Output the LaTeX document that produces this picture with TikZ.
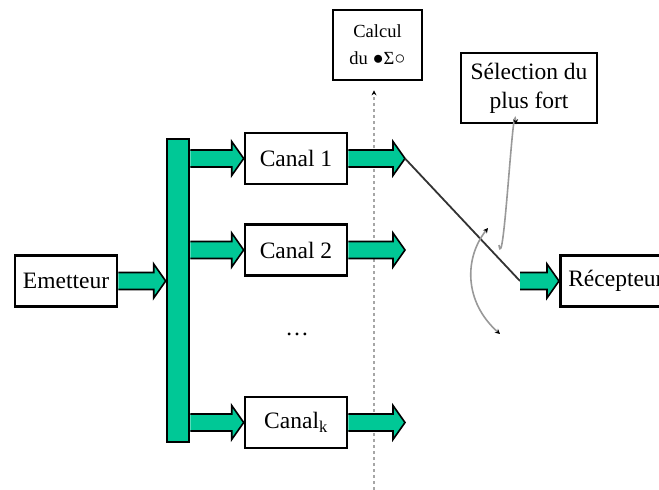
\documentclass[tikz,border=0pt]{standalone}
\usepackage{fontspec}
\setmainfont{Liberation Serif}
\usetikzlibrary{arrows.meta,calc}
\definecolor{chgreen}{RGB}{0,200,150}

\begin{document}
\begin{tikzpicture}[x=1pt, y=-1pt, font=\fontsize{23.5}{29}\selectfont,
    box/.style={draw, line width=2.6pt, minimum width=102pt, minimum height=51pt, inner sep=0pt, align=center},
    fat/.style={draw=black, line width=1.6pt, fill=chgreen, line join=miter,
        to path={let \p1=(\tikztostart), \p2=(\tikztotarget) in
            (\x1,\y1+8.5pt) -- (\x2-12pt,\y1+8.5pt) -- (\x2-12pt,\y1+17pt) -- (\x2,\y1)
            -- (\x2-12pt,\y1-17pt) -- (\x2-12pt,\y1-8.5pt) -- (\x1,\y1-8.5pt)}},
    gray curve/.style={draw=black!40, line width=1.6pt},
    tip/.style={-{Stealth[black, length=5pt, width=5pt]}}]

                \clip (0, 0) rectangle (659, 490);

                \node[box] at (66, 281) (emet) {Emetteur};
                \node[draw, line width=2.6pt, fill=chgreen, minimum width=22pt, minimum height=303pt, inner sep=0pt] at (178, 290.5) (bar) {};
                \node[box] at (296, 158.5) (c1) {Canal 1};
                \node[box] at (296, 250) (c2) {Canal 2};
                \node at (297, 334) (dots) {\dots};
                \node[box] at (296, 422.5) (ck) {Canal\textsubscript{k}};
                \node[box, minimum width=89pt, minimum height=70pt, font=\fontsize{18.5}{27}\selectfont] at (377.5, 45) (calc) {Calcul\\du ●Σ○};
                \node[box, minimum width=136pt, minimum height=70pt] at (529, 88) (sel) {Sélection du\\plus fort};
                \node[box, anchor=west, minimum width=0pt, inner xsep=8pt] at (559, 281) (rec) {Récepteur};

                \coordinate (t1) at (405, 158.5);
                \coordinate (t2) at (405, 250);
                \coordinate (tk) at (405, 422.5);
                \coordinate (sw) at (520, 281);
                \coordinate (vbot) at (374, 490);
                \coordinate (ca) at (499, 245);
                \coordinate (cb1) at (488, 228);
                \coordinate (cb2) at (500, 334);

                % calcul line behind the channels
                \path (vbot) edge[draw=black!35, line width=2pt, dash pattern=on 3pt off 3pt, tip, shorten >=9pt] (vbot |- calc.south);

                \path (emet.east) edge[fat] (bar.west |- emet.east);
                \path (bar.east |- c1.west) edge[fat] (c1.west);
                \path (bar.east |- c2.west) edge[fat] (c2.west);
                \path (bar.east |- ck.west) edge[fat] (ck.west);

                \path (c1.east) edge[fat] (t1);
                \path (c2.east) edge[fat] (t2);
                \path (ck.east) edge[fat] (tk);

                % switch
                \path (t1) edge[draw=black!80, line width=1.8pt] (sw);
                \path (sw) edge[fat] (rec.west);

                \path (ca) edge[gray curve, tip, out=-82, in=95, looseness=0.7] ([xshift=-13pt]sel.south);
                \draw[gray curve, {Stealth[black, length=5pt, width=5pt]}-{Stealth[black, length=5pt, width=5pt]}] (cb1) .. controls (464, 258) and (464, 302) .. (cb2);

            \end{tikzpicture}
\end{document}
